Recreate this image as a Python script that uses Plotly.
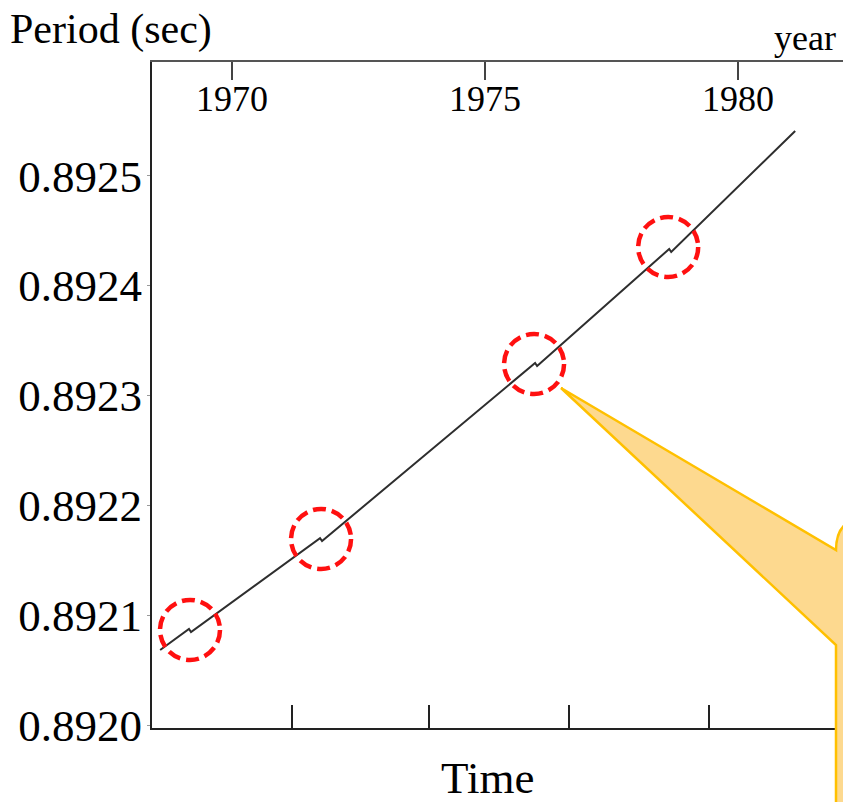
import plotly.graph_objects as go

# ---- data ----
years = [1968.58, 1969.15, 1969.19, 1971.74, 1971.78, 1975.99, 1976.03, 1978.64, 1978.68, 1981.13]
period = [0.8920683, 0.8920874, 0.8920847, 0.8921702, 0.8921675, 0.8923296, 0.8923268, 0.8924334, 0.8924306, 0.8925408]

glitch_years = [1969.17, 1971.76, 1975.97, 1978.62]
glitch_period = [0.8920866, 0.8921694, 0.8923287, 0.8924352]

top_ticks = [1970, 1975, 1980]
bottom_ticks = [1971.19, 1973.89, 1976.66, 1979.43]
y_ticks = [0.8920, 0.8921, 0.8922, 0.8923, 0.8924, 0.8925]

x_range = [1968.419, 1982.075]
y_range = [0.8919973, 0.8926036]

SERIF = "Liberation Serif"

fig = go.Figure()
fig.add_trace(go.Scatter(x=years, y=period, mode="lines",
                         line=dict(color="#2e2e2e", width=2),
                         hoverinfo="skip", showlegend=False))
fig.add_trace(go.Scatter(x=years, y=period, mode="lines", xaxis="x2",
                         line=dict(color="rgba(0,0,0,0)", width=0),
                         hoverinfo="skip", showlegend=False))

# red dashed circles around glitches
for gx, gy in zip(glitch_years, glitch_period):
    fig.add_shape(type="circle", xref="x", yref="y",
                  xsizemode="pixel", ysizemode="pixel",
                  xanchor=gx, yanchor=gy,
                  x0=-30, x1=30, y0=-30, y1=30,
                  line=dict(color="#ff1010", width=4.5, dash="13px,6px"))

# yellow callout (decorative, paper coordinates)
fig.add_shape(type="path", xref="paper", yref="paper",
              path="M 0.5919 0.5105 L 0.98987 0.26727 Q 0.98987 0.31682 1.03763 0.31682 "
                   "L 1.2 0.31682 L 1.2 -0.2 L 0.98987 -0.2 L 0.98987 0.12462 Z",
              fillcolor="#fdd98f", line=dict(color="#ffc000", width=2.5), layer="above")

fig.update_layout(
    width=843, height=802,
    margin=dict(l=152, r=0, t=62, b=74),
    paper_bgcolor="white", plot_bgcolor="white",
    font=dict(family=SERIF, color="black"),
    showlegend=False,
    xaxis=dict(range=x_range, showgrid=False, zeroline=False,
               tickvals=bottom_ticks, showticklabels=False,
               ticks="inside", ticklen=23, tickwidth=2, tickcolor="#222",
               showline=True, linecolor="#222", linewidth=2, mirror=False),
    xaxis2=dict(range=x_range, overlaying="x", side="top", showgrid=False, zeroline=False,
                tickvals=top_ticks, ticktext=[str(t) for t in top_ticks],
                ticks="inside", ticklen=18, tickwidth=1.5, tickcolor="#444",
                ticklabelposition="inside", ticklabelstandoff=10,
                tickfont=dict(family=SERIF, size=36, color="black"),
                showline=True, linecolor="#555", linewidth=2),
    yaxis=dict(range=y_range, showgrid=False, zeroline=False,
               tickvals=y_ticks, tickformat=".4f",
               ticks="outside", ticklen=3, tickcolor="#999",
               ticklabelstandoff=-4,
               tickfont=dict(family=SERIF, size=45, color="black"),
               showline=True, linecolor="#222", linewidth=2),
)

fig.add_annotation(text="Period (sec)", xref="paper", yref="paper",
                   x=(8 - 152) / 691, y=(728 - 30) / 666, xanchor="left", yanchor="middle",
                   showarrow=False, font=dict(family=SERIF, size=42, color="black"))
fig.add_annotation(text="year", xref="paper", yref="paper",
                   x=(838 - 152) / 691, y=(728 - 38) / 666, xanchor="right", yanchor="middle",
                   showarrow=False, font=dict(family=SERIF, size=36, color="black"))
fig.add_annotation(text="Time", xref="paper", yref="paper",
                   x=(487 - 152) / 691, y=(728 - 778) / 666, xanchor="center", yanchor="middle",
                   showarrow=False, font=dict(family=SERIF, size=45, color="black"))

fig.write_html("out.html")
